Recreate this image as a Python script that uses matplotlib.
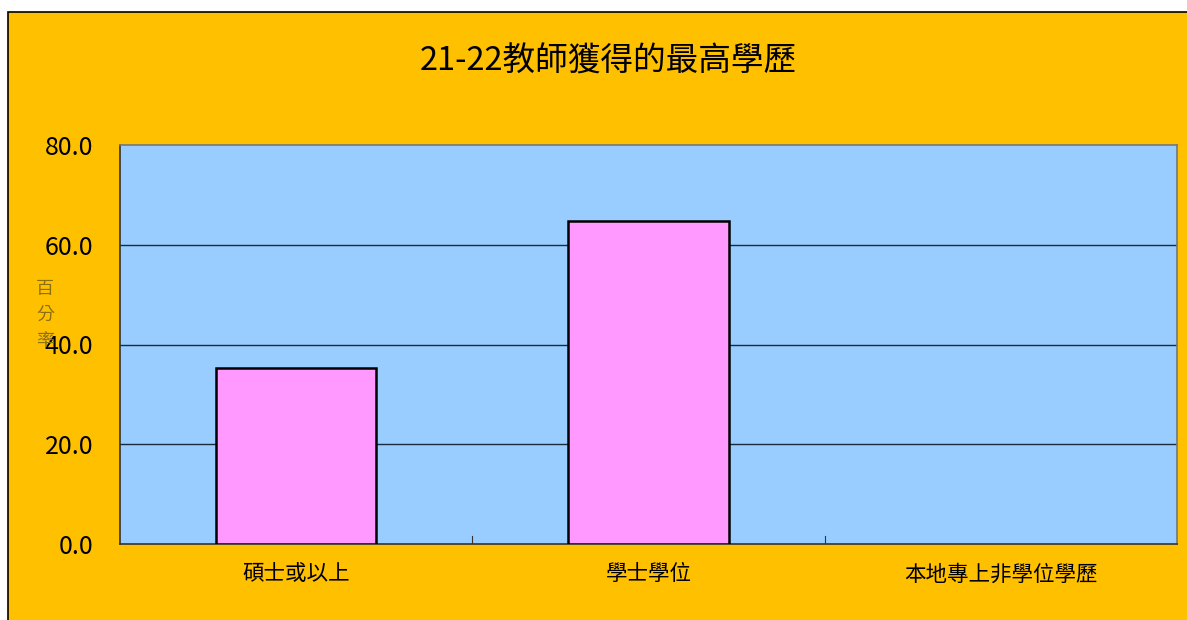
import matplotlib
matplotlib.use("Agg")
import matplotlib.pyplot as plt
from matplotlib.patches import Rectangle
import numpy as np

plt.rcParams['font.family'] = ['Noto Sans CJK TC', 'DejaVu Sans']

title = "21-22教師獲得的最高學歷"
categories = ["碩士或以上", "學士學位", "本地專上非學位學歷"]
values = [35.3, 64.7, 0.0]
yticks = [0, 20, 40, 60, 80]
ylabel = "百\n分\n率"

W, H = 1187, 620
fig = plt.figure(figsize=(W / 100, H / 100), dpi=100)
fig.patch.set_facecolor('white')

# orange chart area with black border
fig.patches.append(Rectangle((8 / W, -0.05), 1.05 - 8 / W, 1.05 - 12 / H, transform=fig.transFigure,
                             facecolor='#FFC000', edgecolor='black', linewidth=1.2, zorder=-5))

ax = fig.add_axes([120 / W, 1 - 544 / H, (1177 - 120) / W, (544 - 145) / H])
ax.set_zorder(2)
ax.set_facecolor('#99CCFF')
x = np.arange(len(categories))
bars = ax.bar(x, values, width=0.455, color='#FF99FF', edgecolor='black', linewidth=1.8, zorder=3)
for b, v in zip(bars, values):
    if v == 0:
        b.set_visible(False)
ax.set_xlim(-0.5, len(categories) - 0.5)
ax.set_ylim(0, 80)
ax.set_yticks(yticks)
ax.set_yticklabels([f"{v:.1f}" for v in yticks], fontsize=18)
ax.tick_params(axis='y', length=0, pad=19)
for v in yticks[1:-1]:
    ax.axhline(v, color='#1a2a3a', linewidth=1, zorder=2)
ax.set_xticks(x)
ax.set_xticklabels(categories, fontsize=15.5)
ax.tick_params(axis='x', length=0, pad=14)
for b in [0.5, 1.5]:
    ax.plot([b, b], [0, 1.6], color='#333333', linewidth=0.8, zorder=2)
for s in ['left', 'bottom']:
    ax.spines[s].set_color('#333333')
    ax.spines[s].set_linewidth(1.2)
ax.spines['top'].set_color('#777777')
ax.spines['top'].set_linewidth(1.2)
ax.spines['right'].set_color('#777777')
ax.spines['right'].set_linewidth(1.2)

fig.text(608 / W, 1 - 62 / H, title, ha='center', va='center', fontsize=23.5)
fig.text(45 / W, 1 - 315 / H, ylabel, ha='center', va='center', fontsize=13,
         color='#8a7010', linespacing=1.55)

fig.savefig("out.png", dpi=100)
